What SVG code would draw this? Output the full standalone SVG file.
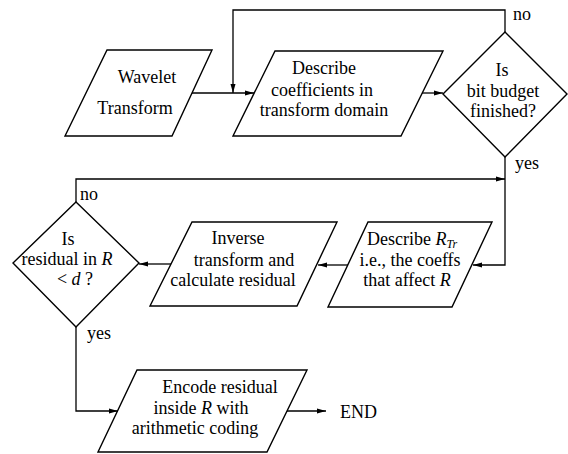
<svg xmlns="http://www.w3.org/2000/svg" width="568" height="454" viewBox="0 0 568 454">
<style>
.s{fill:none;stroke:#000;stroke-width:1.4;stroke-linejoin:miter}
.c{fill:none;stroke:#000;stroke-width:1.3}
.t{font-family:"Liberation Serif","Times New Roman",serif;font-size:18px;fill:#000}
.m{text-anchor:middle}
.i{font-style:italic}
</style>
<defs>
<marker id="a" markerUnits="userSpaceOnUse" markerWidth="9" markerHeight="6" refX="9" refY="3" orient="auto">
<path d="M0,0.5 L9,3 L0,5.5 z" fill="#000"/>
</marker>
</defs>
<rect width="568" height="454" fill="#fff"/>
<g id="connectors">
<path class="c" d="M192,93 H254" marker-end="url(#a)"/>
<path class="c" d="M505,32 V10 H233 V93" marker-end="url(#a)"/>
<path class="c" d="M422,93 H443" marker-end="url(#a)"/>
<path class="c" d="M505,157 V265 H473" marker-end="url(#a)"/>
<path class="c" d="M348,265 H318" marker-end="url(#a)"/>
<path class="c" d="M171,264 H139" marker-end="url(#a)"/>
<path class="c" d="M76,202 V179 H505" marker-end="url(#a)"/>
<path class="c" d="M76,327 V411 H118" marker-end="url(#a)"/>
<path class="c" d="M287,411 H326" marker-end="url(#a)"/>
<text class="t" x="513" y="20">no</text>
<text class="t" x="515" y="169">yes</text>
<text class="t" x="80" y="200">no</text>
<text class="t" x="87" y="339">yes</text>
<text class="t" x="340" y="418">END</text>
</g>
<g id="wavelet">
<polygon class="s" points="107,50 212,50 172,136 65,136"/>
<text class="t m" x="147" y="83">Wavelet</text>
<text class="t m" x="135" y="114">Transform</text>
</g>
<g id="describe-coeffs">
<polygon class="s" points="275,51 443,51 401,136 233,136"/>
<text class="t m" x="324" y="74">Describe</text>
<text class="t m" x="322" y="96">coefficients in</text>
<text class="t m" x="324" y="116">transform domain</text>
</g>
<g id="budget">
<polygon class="s" points="505,32 567,94 505,157 443,94"/>
<text class="t m" x="502" y="76">Is</text>
<text class="t m" x="503" y="97">bit budget</text>
<text class="t m" x="503" y="117">finished?</text>
</g>
<g id="describe-rtr">
<polygon class="s" points="368,222 492,222 452,307 328,307"/>
<text class="t m" x="412" y="245">Describe <tspan class="i">R</tspan><tspan class="i" font-size="12" dy="3">Tr</tspan></text>
<text class="t m" x="410" y="266">i.e., the coeffs</text>
<text class="t m" x="407" y="286">that affect <tspan class="i">R</tspan></text>
</g>
<g id="inverse">
<polygon class="s" points="192,222 337,222 297,306 150,306"/>
<text class="t m" x="238" y="244">Inverse</text>
<text class="t m" x="244" y="266">transform and</text>
<text class="t m" x="233" y="286">calculate residual</text>
</g>
<g id="residual-check">
<polygon class="s" points="76,202 139,263 76,327 13,263"/>
<text class="t m" x="68" y="245">Is</text>
<text class="t m" x="67" y="265">residual in <tspan class="i">R</tspan></text>
<text class="t m" x="75" y="285">&lt; <tspan class="i">d</tspan> ?</text>
</g>
<g id="encode">
<polygon class="s" points="137,370 307,370 267,452 98,452"/>
<text class="t m" x="220" y="393">Encode residual</text>
<text class="t m" x="201" y="414">inside <tspan class="i">R</tspan> with</text>
<text class="t m" x="195" y="434">arithmetic coding</text>
</g>
</svg>
